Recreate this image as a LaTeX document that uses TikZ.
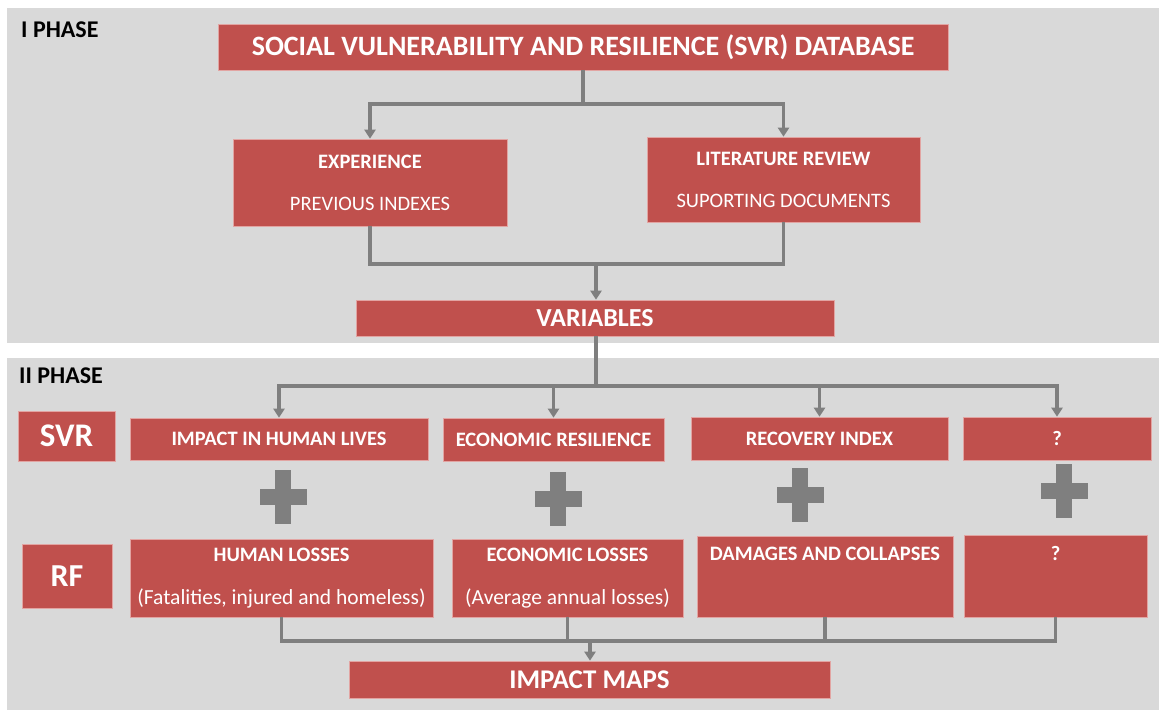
\documentclass[tikz,border=0pt]{standalone}
\usepackage{fontspec}
\setmainfont{Carlito}
\usetikzlibrary{arrows.meta}
\definecolor{boxred}{HTML}{C0504D}
\definecolor{panelgray}{HTML}{D9D9D9}
\definecolor{linegray}{HTML}{7F7F7F}
\definecolor{boxedge}{HTML}{E2A4A2}
\newcommand{\fs}[1]{\fontsize{#1}{#1}\selectfont}
\tikzset{
  box/.style={fill=boxred, draw=boxedge, line width=0.6pt, text=white,
    inner sep=0pt, align=center},
  conn/.style={draw=linegray, line width=3.8pt},
  arr/.style={conn, -{Triangle[width=11pt,length=9pt]}},
  phase/.style={anchor=west, inner sep=0pt, font=\fs{24}\bfseries},
  crossbar/.style={fill=linegray},
}
\begin{document}
\begin{tikzpicture}[x=1pt,y=-1pt]
\useasboundingbox (0,0) rectangle (1159,710);
% two phase panels
\fill[panelgray] (7,8) rectangle (1159,343);
\fill[panelgray] (7,358) rectangle (1159,710);
\node[phase] (ph1) at (21,30) {I PHASE};
\node[phase] (ph2) at (19,376) {II PHASE};

% phase I
\node[box, minimum width=730, minimum height=46, font=\fs{28}\bfseries] (db) at (583,47)
  {SOCIAL VULNERABILITY AND RESILIENCE (SVR) DATABASE};
\node[box, minimum width=274, minimum height=87, font=\fs{20.5}] (exp) at (370,182.5)
  {\textbf{EXPERIENCE}\\[21.5pt]PREVIOUS INDEXES};
\node[box, minimum width=273, minimum height=85, font=\fs{20.5}] (lit) at (783.5,179.5)
  {\textbf{LITERATURE REVIEW}\\[21.5pt]SUPORTING DOCUMENTS};
\node[box, minimum width=478, minimum height=36, font=\fs{26}\bfseries] (var) at (595,318)
  {VARIABLES};

% phase II, first row
\node[box, minimum width=97, minimum height=50, font=\fs{33}\bfseries] (svr) at (66.5,436) {SVR};
\node[box, minimum width=298, minimum height=42, font=\fs{20.5}\bfseries] (lives) at (279,439)
  {IMPACT IN HUMAN LIVES};
\node[box, minimum width=221, minimum height=43, font=\fs{20.5}\bfseries] (econres) at (553.5,439.5)
  {ECONOMIC RESILIENCE};
\node[box, minimum width=257, minimum height=43, font=\fs{20.5}\bfseries] (recov) at (819.5,438.5)
  {RECOVERY INDEX};
\node[box, minimum width=188, minimum height=43, font=\fs{20.5}\bfseries] (qa) at (1057,438.5) {?};

% phase II, second row
\node[box, minimum width=90, minimum height=64, font=\fs{32}\bfseries] (rf) at (67,576) {RF};
\node[box, minimum width=303, minimum height=78, font=\fs{20.5}] (human) at (281.5,578)
  {\textbf{HUMAN LOSSES}\\[22.5pt]{\fs{21.5}(Fatalities, injured and homeless)}};
\node[box, minimum width=231, minimum height=78, font=\fs{20.5}] (econloss) at (567.5,578)
  {\textbf{ECONOMIC LOSSES}\\[22.5pt]{\fs{21.5}(Average annual losses)}};
\node[box, minimum width=256, minimum height=81, font=\fs{20.5}] (dmg) at (825,576.5)
  {\textbf{DAMAGES AND COLLAPSES}\\[22.5pt]{\fs{21.5}\phantom{(X)}}};
\node[box, minimum width=183, minimum height=82, font=\fs{20.5}] (qb) at (1055.5,576)
  {\textbf{?}\\[22.5pt]{\fs{21.5}\phantom{(X)}}};
\node[box, minimum width=481, minimum height=37, font=\fs{27}\bfseries] (maps) at (589.5,679.5)
  {IMPACT MAPS};

% plus signs between the rows
\foreach \cx/\cy in {283/497, 558/499, 800/495, 1064/491} {
  \fill[crossbar] (\cx-8,\cy-27) rectangle (\cx+8,\cy+27);
  \fill[crossbar] (\cx-23.5,\cy-8) rectangle (\cx+23.5,\cy+8);
}

% connectors
\coordinate (t1) at (583,104);
\draw[conn] (db.south) -- (t1);
\draw[arr] (t1) -| (exp.north);
\draw[arr] (t1) -| (lit.north);

\coordinate (t2) at (596,264);
\draw[conn] (exp.south) -- (exp.south |- t2) -- (lit.south |- t2) -- (lit.south);
\draw[arr] (t2) -- (t2 |- var.north);

\coordinate (t3) at (596,386);
\draw[conn] (t3 |- var.south) -- (t3);
\foreach \n in {lives, econres, recov, qa}
  \draw[arr] (t3) -| (\n.north);

\coordinate (t4) at (590,641);
\foreach \n in {human, econloss, dmg, qb}
  \draw[conn] (\n.south) |- (t4);
\draw[arr] (t4) -- (t4 |- maps.north);
\end{tikzpicture}
\end{document}
